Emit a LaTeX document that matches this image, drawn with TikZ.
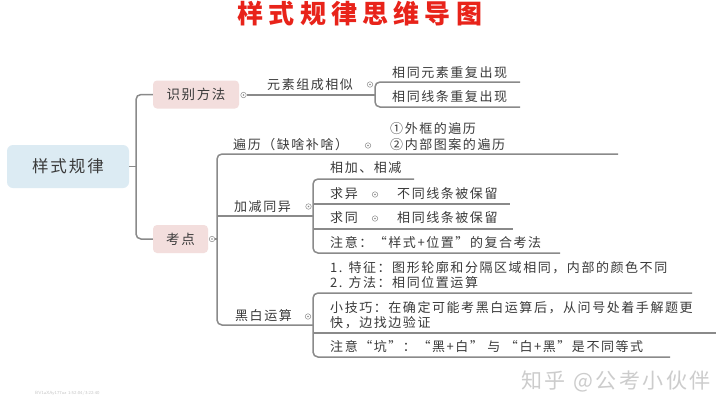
\documentclass[tikz,border=0pt]{standalone}
\usepackage{fontspec}
\newfontfamily\cjk[LetterSpace=12]{Noto Sans CJK SC}
\newfontfamily\cjkwide[LetterSpace=20]{Noto Sans CJK SC}
\definecolor{linegray}{HTML}{8A8A8A}
\definecolor{textgray}{HTML}{3A3A3A}
\definecolor{rootblue}{HTML}{DCEBF3}
\definecolor{topicpink}{HTML}{F3DEDD}
\definecolor{titlered}{HTML}{E8231A}

\begin{document}
\begin{tikzpicture}[x=1pt,y=-1pt,
	link/.style={draw=linegray, line width=1.5pt, rounded corners=5pt},
	knob/.style={circle, draw=linegray, line width=0.5pt, minimum size=5.5pt, inner sep=0pt, fill=white,
		path picture={\fill[linegray] (path picture bounding box.center) circle (0.9pt);}},
	txt/.style={anchor=west, inner sep=0pt, text=textgray, align=left, font=\cjk\fontsize{13}{15}\selectfont},
	topic/.style={rounded corners=4pt, fill=topicpink, text=textgray, inner sep=0pt, minimum height=28pt, font=\cjk\fontsize{13.5}{16}\selectfont},
	rootbox/.style={rounded corners=6pt, fill=rootblue, text=textgray, inner sep=0pt, minimum width=122pt, minimum height=43pt, font=\cjk\fontsize{16.5}{20}\selectfont}]
	\fill[white] (0,0) rectangle (720,405);
	\useasboundingbox (0,0) rectangle (720,405);
	% title
	\node[text=titlered, font=\cjkwide\bfseries\fontsize{26}{30}\selectfont] (title) at (360,14) {样式规律思维导图};
	% root and main topics
	\node[rootbox] (root) at (68,166.5) {样式规律};
	\node[topic, minimum width=86pt] (sbff) at (196,94.5) {识别方法};
	\node[topic, minimum width=55pt] (kd) at (180.5,239) {考点};
	\node[knob] (sbffk) at (243.5,95) {};
	\node[knob] (kdk) at (212,239) {};
	\coordinate (rj) at (136,166.5);
	\draw[link] (root.east) -- (rj);
	\draw[link] (sbff.west) -| (rj) |- (kd.west);
	% identify branch
	\node[txt] (ysxs) at (267,85) {元素组成相似};
	\node[knob] (ysxsk) at (370,84.5) {};
	\coordinate (ysj) at (375,95);
	\draw[link] (sbffk.east) -- (ysj);
	\node[txt] (xtys) at (392,73) {相同元素重复出现};
	\node[txt] (xtxt) at (392,97) {相同线条重复出现};
	\coordinate (ys1) at (520,82);
	\coordinate (ys2) at (520,107);
	\draw[link] (ys1) -| (ysj) |- (ys2);
	% exam points trunk
	\coordinate (kj) at (217,239);
	\coordinate (bl) at (618,154);
	\coordinate (hb) at (313,325);
	\draw[link] (bl) -| (kj) |- (hb);
	\draw[link] (kdk.east) -- (kj);
	% traverse
	\node[txt] (blty) at (233,145) {遍历（缺啥补啥）};
	\node[knob] (blk) at (368,145.5) {};
	\node[txt, font=\cjk\fontsize{13}{16}\selectfont] (blzy) at (390,137) {①外框的遍历\\②内部图案的遍历};
	% add / subtract
	\coordinate (jj) at (313,216);
	\draw[link] (jj -| kj) -- (jj);
	\node[txt] (jjty) at (234,207) {加减同异};
	\node[knob] (jjk) at (308.5,206.5) {};
	\coordinate (jj1) at (414,179);
	\coordinate (jj2) at (510,204);
	\coordinate (jj3) at (513,229);
	\coordinate (jj4) at (560,253);
	\draw[link] (jj1) -| (jj) |- (jj4);
	\draw[link] (jj |- jj2) -- (jj2);
	\draw[link] (jj |- jj3) -- (jj3);
	\node[txt] (jjxj) at (330,168) {相加、相减};
	\node[txt] (qy) at (330,194) {求异};
	\node[knob] (qyk) at (375,194.5) {};
	\node[txt] (qyty) at (397,194) {不同线条被保留};
	\node[txt] (qt) at (330,218) {求同};
	\node[knob] (qtk) at (375,218.5) {};
	\node[txt] (qtty) at (397,218) {相同线条被保留};
	\node[txt] (jjzy) at (330,243) {注意：“样式+位置”的复合考法};
	% black and white
	\node[txt] (hbty) at (235,316) {黑白运算};
	\node[knob] (hbk) at (308,316.5) {};
	\coordinate (hb1) at (692,293);
	\coordinate (hb2) at (716,333);
	\coordinate (hb3) at (670,357);
	\draw[link] (hb1) -| (hb) |- (hb3);
	\draw[link] (hb |- hb2) -- (hb2);
	\node[txt] (hbtz) at (330,275.5) {1. 特征：图形轮廓和分隔区域相同，内部的颜色不同\\2. 方法：相同位置运算};
	\node[txt, font=\cjk\fontsize{13}{14.5}\selectfont] (xjq) at (330,315) {小技巧：在确定可能考黑白运算后，从问号处着手解题更\\快，边找边验证};
	\node[txt] (zyk) at (330,347) {注意“坑”：“黑+白” 与 “白+黑”是不同等式};
	% watermark
	\node[text=gray!40, font=\cjk\fontsize{21}{24}\selectfont] (wm) at (616,381) {知乎 @公考小伙伴};
	\node[anchor=west, inner sep=0pt, text=gray!45, font=\sffamily\fontsize{4.5}{5}\selectfont] (bv) at (35,393) {BV1aXAy177uz 1:52:04/3:22:40};
\end{tikzpicture}
\end{document}
